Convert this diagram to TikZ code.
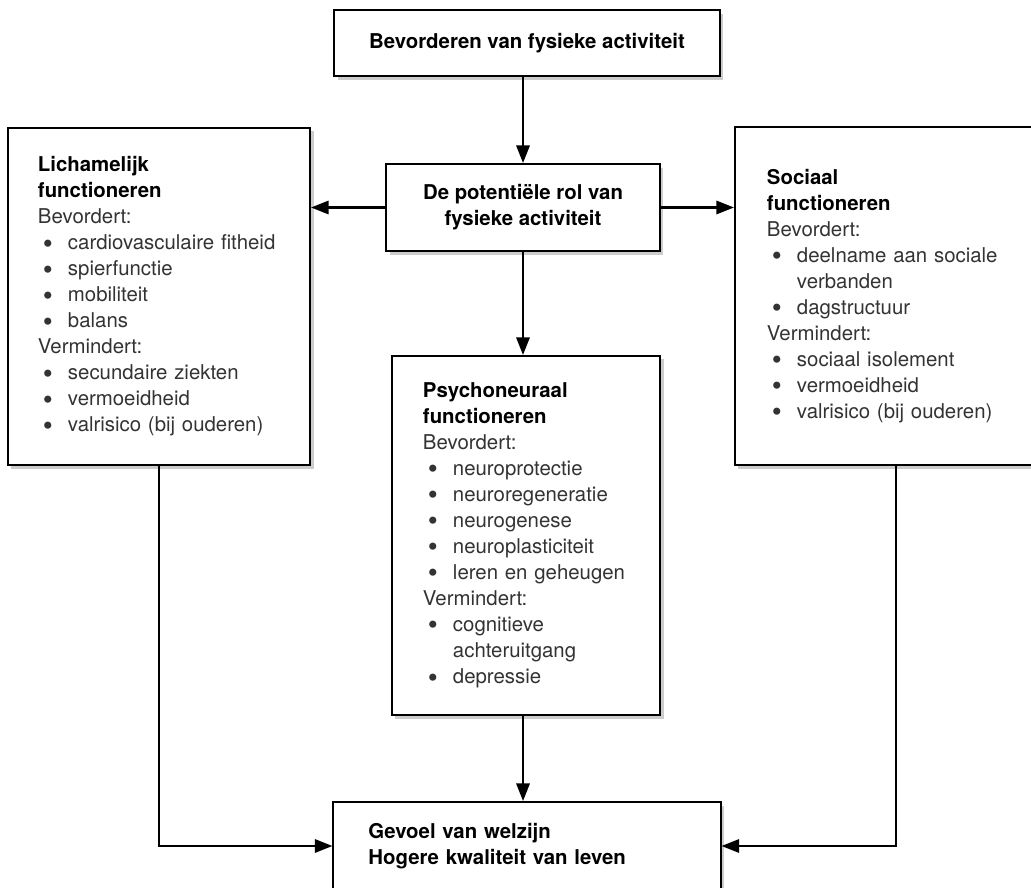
\documentclass[tikz,border=0pt]{standalone}
\usepackage{fontspec}
\setmainfont{TeX Gyre Heros}
\usetikzlibrary{arrows.meta, shadows}
\newcommand{\basefont}{\fontsize{14.5pt}{18.5pt}\selectfont}
\newcommand{\itm}{\hspace*{0.125cm}\makebox[0.625cm][l]{\smash{\raisebox{-0.3ex}{\scalebox{1.4}{•}}}}}
\newcommand{\cnt}{\hspace*{0.75cm}}
\newcommand{\hd}[1]{\textbf{\color{black}#1}}

\begin{document}
\begin{tikzpicture}[x=0.025cm, y=-0.025cm, font=\basefont,
    box/.style={draw, line width=1.4pt, fill=white,
      drop shadow={shadow xshift=2.5pt, shadow yshift=-2.5pt, opacity=0.4, fill=black!50}},
    listbox/.style={box, align=left, inner ysep=0pt, text=black!80},
    arr/.style={line width=1.5pt, -{Triangle[length=12.5pt, width=9.5pt]}}]
  \useasboundingbox (0,0) rectangle (1031,887);
  \clip (0,0) rectangle (1031,887);

  % Top and centre boxes
  \node[box, font=\basefont\bfseries, minimum width=9.625cm, minimum height=1.65cm] (bevord) at (527,43) {Bevorderen van fysieke activiteit};
  \node[box, font=\basefont\bfseries, align=center, minimum width=6.825cm, minimum height=2.175cm] (rol) at (523,207.5) {De potentiële rol van\\fysieke activiteit};

  % The three domains
  \node[listbox, text width=6.05cm, inner xsep=0.75cm, minimum height=8.425cm] (lich) at (159,296.5)
    {\hd{Lichamelijk}\\ \hd{functioneren}\\ Bevordert:\\
     \itm cardiovasculaire fitheid\\ \itm spierfunctie\\ \itm mobiliteit\\ \itm balans\\
     Vermindert:\\ \itm secundaire ziekten\\ \itm vermoeidheid\\ \itm valrisico (bij ouderen)};
  \node[listbox, text width=6.45cm, inner xsep=0.8cm, minimum height=8.45cm] (soc) at (896,296)
    {\hd{Sociaal}\\ \hd{functioneren}\\ Bevordert:\\
     \itm deelname aan sociale\\ \cnt verbanden\\ \itm dagstructuur\\
     Vermindert:\\ \itm sociaal isolement\\ \itm vermoeidheid\\ \itm valrisico (bij ouderen)};
  \node[listbox, text width=5.15cm, inner xsep=0.775cm, minimum height=8.975cm] (psy) at (526,535.5)
    {\hd{Psychoneuraal}\\ \hd{functioneren}\\ Bevordert:\\
     \itm neuroprotectie\\ \itm neuroregeneratie\\ \itm neurogenese\\ \itm neuroplasticiteit\\ \itm leren en geheugen\\
     Vermindert:\\ \itm cognitieve\\ \cnt achteruitgang\\ \itm depressie};

  % Outcome
  \node[listbox, font=\basefont\bfseries, text=black, text width=7.925cm, inner xsep=0.875cm, minimum height=2.2cm] (welz) at (527,846)
    {Gevoel van welzijn\\ Hogere kwaliteit van leven};

  % Connectors
  \draw[arr] (bevord.south -| rol.north) -- (rol.north);
  \draw[arr] (rol.west) -- (rol.west -| lich.east);
  \draw[arr] (rol.east) -- (rol.east -| soc.west);
  \draw[arr] (rol.south) -- (rol.south |- psy.north);
  \draw[arr] (psy.south -| rol.south) -- (rol.south |- welz.north);
  \draw[arr] (lich.south) |- (welz.west);
  \draw[arr] (soc.south) |- (welz.east);
\end{tikzpicture}
\end{document}
